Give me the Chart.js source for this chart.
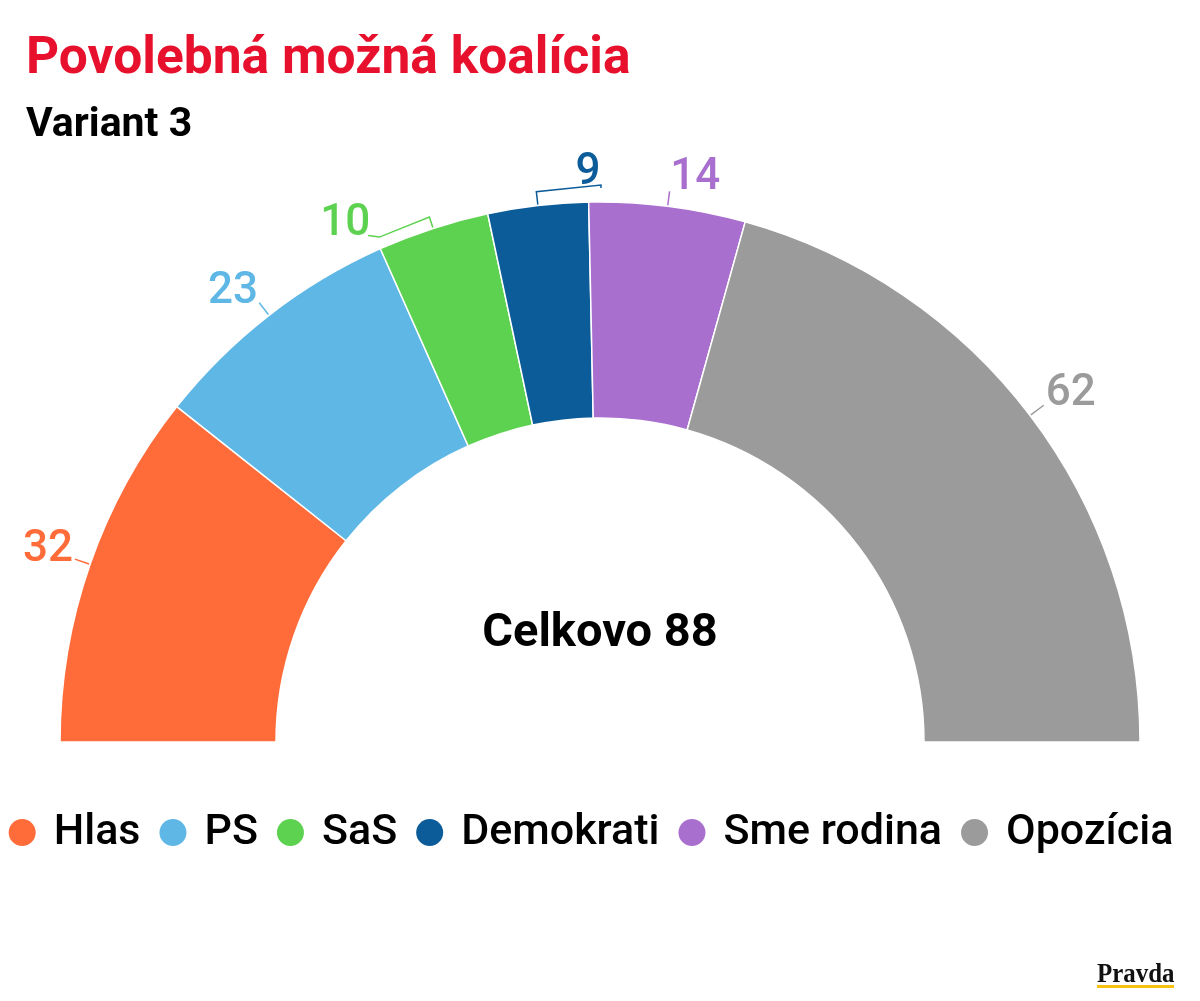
<!DOCTYPE html>
<html><head><meta charset="utf-8">
<script src="https://cdn.jsdelivr.net/npm/chart.js@4.4.0/dist/chart.umd.min.js"></script>
<style>
html,body{margin:0;padding:0;background:#fff;width:1200px;height:1001px;overflow:hidden;font-family:Roboto, sans-serif;}
#wrap{position:relative;width:1200px;height:1001px;}
canvas{position:absolute;left:0;top:0;}
.t{position:absolute;white-space:nowrap;line-height:1;}
#title{left:26px;top:30px;font-size:51.5px;font-weight:700;color:#e8112d;}
#sub{left:26px;top:101.5px;font-size:41px;font-weight:700;color:#000;}
#logo{left:1097px;top:959px;font-family:"Liberation Serif",serif;font-size:28px;font-weight:700;color:#111;transform:scaleX(0.89);transform-origin:left top;}
#bar{position:absolute;left:1097px;top:985px;width:77px;height:3px;background:#f6c10f;}
</style></head>
<body><div id="wrap">
<canvas id="c" width="1200" height="1001"></canvas>
<div class="t" id="title">Povolebná možná koalícia</div>
<div class="t" id="sub">Variant 3</div>
<div class="t" id="logo">Pravda</div>
<div id="bar"></div>
</div>
<script>
const categories = ['Hlas', 'PS', 'SaS', 'Demokrati', 'Sme rodina', 'Opozícia'];
const seats = [32, 23, 10, 9, 14, 62];
const colors = ['#ff6b39', '#5fb7e5', '#5dd250', '#0c5c9a', '#a96fcf', '#9b9b9b'];
const centerLabel = 'Celkovo 88';

// label layout: angle shift (deg), leader path [[angleShift, radiusOffset],...], text radius offset
const labelLayout = [
  {shift: 0.4, path: [[0, 1], [0, 16]], tr: 46},
  {shift: -1.1, path: [[0, 1], [0, 16]], tr: 44.5},
  {shift: -8, path: [[0, 1], [0, 12], [-5.6, 11], [-6.6, 17]], tr: 41},
  {shift: 5.4, path: [[0, 1], [0, 14], [6.7, 17], [6.7, 14]], tr: 34},
  {shift: 2.3, path: [[0, 1], [0, 15]], tr: 37},
  {shift: 0.4, path: [[0, 1], [0, 17]], tr: 48}
];

const labelPlugin = {
  id: 'seatLabels',
  afterDatasetsDraw(chart) {
    const ctx = chart.ctx;
    const meta = chart.getDatasetMeta(0);
    const ds = chart.data.datasets[0];
    const d2r = Math.PI / 180;
    ctx.save();
    meta.data.forEach((arc, i) => {
      const p = arc.getProps(['x', 'y', 'startAngle', 'endAngle', 'outerRadius'], true);
      const mid = (p.startAngle + p.endAngle) / 2;
      const lay = labelLayout[i];
      const pt = (a, dr) => [p.x + Math.cos(mid + a * d2r) * (p.outerRadius + dr), p.y + Math.sin(mid + a * d2r) * (p.outerRadius + dr)];
      const col = ds.backgroundColor[i];
      ctx.strokeStyle = col;
      ctx.lineWidth = 1.5;
      ctx.beginPath();
      lay.path.forEach((q, k) => {
        const [xx, yy] = pt(q[0], q[1]);
        if (k === 0) ctx.moveTo(xx, yy); else ctx.lineTo(xx, yy);
      });
      ctx.stroke();
      const [tx, ty] = pt(lay.shift, lay.tr);
      ctx.fillStyle = col;
      ctx.font = '500 44px Roboto';
      ctx.textAlign = 'center';
      ctx.textBaseline = 'alphabetic';
      ctx.fillText(String(ds.data[i]), tx, ty + 15.6);
    });
    // center label
    const a0 = meta.data[0];
    ctx.fillStyle = '#000';
    ctx.font = '700 47px Roboto';
    ctx.textAlign = 'center';
    ctx.fillText(centerLabel, a0.x, a0.y - 96);
    ctx.restore();
  }
};

const legendPlugin = {
  id: 'customLegend',
  afterDraw(chart) {
    const ctx = chart.ctx;
    ctx.save();
    ctx.font = '500 43px Roboto';
    const r = 13.5, gapText = 18, gapItem = 19;
    const widths = categories.map(c => ctx.measureText(c).width);
    const total = widths.reduce((s, w) => s + w, 0) + categories.length * (2 * r + gapText) + (categories.length - 1) * gapItem;
    let x = 591 - total / 2;
    const cy = 832.5, base = 843.5;
    categories.forEach((c, i) => {
      ctx.fillStyle = colors[i];
      ctx.beginPath();
      ctx.arc(x + r, cy, r, 0, Math.PI * 2);
      ctx.fill();
      x += 2 * r + gapText;
      ctx.fillStyle = '#000';
      ctx.textAlign = 'left';
      ctx.textBaseline = 'alphabetic';
      ctx.fillText(c, x, base);
      x += widths[i] + gapItem;
    });
    ctx.restore();
  }
};

new Chart(document.getElementById('c'), {
  type: 'doughnut',
  data: {
    labels: categories,
    datasets: [{data: seats, backgroundColor: colors, borderColor: '#ffffff', borderWidth: 1.5}]
  },
  options: {
    responsive: false,
    animation: false,
    events: [],
    rotation: -90,
    circumference: 180,
    cutout: '60%',
    radius: 540,
    layout: {padding: {left: 60, right: 60, top: 202, bottom: 259}},
    plugins: {legend: {display: false}, tooltip: {enabled: false}, title: {display: false}}
  },
  plugins: [labelPlugin, legendPlugin]
});
</script>
</body></html>
